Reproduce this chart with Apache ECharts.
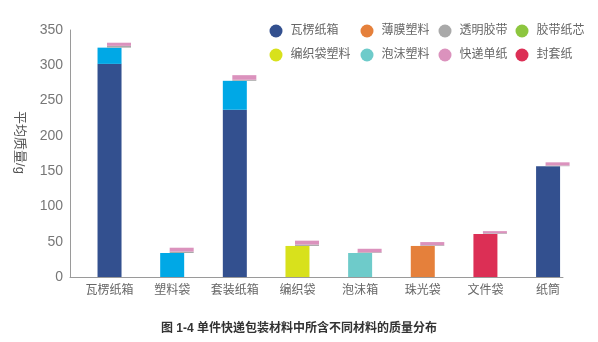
<!DOCTYPE html>
<html>
<head>
<meta charset="utf-8">
<script src="https://cdn.jsdelivr.net/npm/echarts@6/dist/echarts.min.js"></script>
<style>html,body{margin:0;padding:0;background:#fff;}#c{width:598px;height:342px;}</style>
</head>
<body>
<div id="c"></div>
<script>
const categories = ['瓦楞纸箱','塑料袋','套装纸箱','编织袋','泡沫箱','珠光袋','文件袋','纸筒'];
const corrugated = [302, 0, 237, 0, 0, 0, 0, 157];   // 瓦楞纸箱
const plasticBag = [23, 34, 41, 0, 0, 0, 0, 0];      // 塑料 (light blue)
const wovenPlastic = [0, 0, 0, 44, 0, 0, 0, 0];      // 编织袋塑料
const foamPlastic = [0, 0, 0, 0, 34, 0, 0, 0];       // 泡沫塑料
const filmPlastic = [0, 0, 0, 0, 0, 44, 0, 0];       // 薄膜塑料
const envelopePaper = [0, 0, 0, 0, 0, 0, 61, 0];     // 封套纸
const tapeCore = [0, 0, 0, 0, 0, 0, 0, 0];           // 胶带纸芯
const clearTape = [2.5, 2, 1.5, 2, 1, 1, 1, 1];      // 透明胶带
const waybillPaper = [4.5, 5.5, 6.5, 5.5, 5, 4.5, 3, 4.5]; // 快递单纸
const yTicks = [0, 50, 100, 150, 200, 250, 300, 350];

const C = {
  corr: '#33508f', film: '#e5803b', tape: '#a9a9a9', core: '#8dc63f',
  woven: '#d8e11c', foam: '#6ecbca', bill: '#db92bd', env: '#dc2f55', blue: '#00a8e6'
};
const nz = a => a.map(v => v === 0 ? null : v);
const baseTop = categories.map((_, i) =>
  corrugated[i] + plasticBag[i] + wovenPlastic[i] + foamPlastic[i] + filmPlastic[i] + envelopePaper[i]);

const FONT = "'Liberation Sans','Noto Sans CJK SC',sans-serif";
const TOP = 30, BOTTOM = 65, BW = 24;

const chart = echarts.init(document.getElementById('c'), null, {renderer: 'canvas'});
const legendCommon = {
  orient: 'vertical', top: 19.5, itemWidth: 13, itemHeight: 13, itemGap: 11, icon: 'circle',
  textStyle: {fontSize: 12, color: '#666', fontFamily: FONT, padding: [0, 0, 0, 3]}
};
chart.setOption({
  animation: false,
  backgroundColor: '#fff',
  title: {
    text: '图 1-4 单件快递包装材料中所含不同材料的质量分布',
    left: 'center', top: 318,
    textStyle: {fontSize: 12, fontWeight: 'bold', color: '#333', fontFamily: FONT}
  },
  legend: [
    Object.assign({left: 264.5, data: ['瓦楞纸箱', '编织袋塑料']}, legendCommon),
    Object.assign({left: 355.5, data: ['薄膜塑料', '泡沫塑料']}, legendCommon),
    Object.assign({left: 433.5, data: ['透明胶带', '快递单纸']}, legendCommon),
    Object.assign({left: 510.5, data: ['胶带纸芯', '封套纸']}, legendCommon)
  ],
  grid: [
    {left: 70, right: 35, top: TOP, bottom: BOTTOM},
    {left: 78.2, right: 18.6, top: TOP, bottom: BOTTOM},
    {left: 87.7, right: 9.1, top: TOP, bottom: BOTTOM}
  ],
  xAxis: [
    {gridIndex: 0, type: 'category', data: categories,
      axisLine: {show: true, lineStyle: {color: '#9a9a9a', width: 1}},
      axisTick: {show: false}, axisLabel: {show: false}},
    {gridIndex: 1, type: 'category', data: categories,
      axisLine: {show: false}, axisTick: {show: false},
      axisLabel: {fontSize: 12, color: '#666', margin: 8, fontFamily: FONT}},
    {gridIndex: 2, type: 'category', data: categories, show: false}
  ],
  yAxis: [
    {gridIndex: 0, type: 'value', min: 0, max: 350, interval: 50,
      name: '平均质量/g', nameLocation: 'middle', nameRotate: -90, nameGap: 44,
      nameTextStyle: {fontSize: 13, color: '#555', fontFamily: FONT, padding: [0, 22, 0, 0]},
      axisLine: {show: true, lineStyle: {color: '#9a9a9a', width: 1}},
      axisTick: {show: false}, splitLine: {show: false},
      axisLabel: {fontSize: 14, color: '#777', margin: 7, fontFamily: FONT,
        customValues: yTicks}},
    {gridIndex: 1, type: 'value', min: 0, max: 350, show: false, splitLine: {show: false}},
    {gridIndex: 2, type: 'value', min: 0, max: 350, show: false, splitLine: {show: false}}
  ],
  series: [
    {name: '瓦楞纸箱', type: 'bar', xAxisIndex: 1, yAxisIndex: 1, stack: 'main', barWidth: BW,
      data: nz(corrugated), itemStyle: {color: C.corr}},
    {name: '塑料', type: 'bar', xAxisIndex: 1, yAxisIndex: 1, stack: 'main', barWidth: BW,
      data: nz(plasticBag), itemStyle: {color: C.blue}},
    {name: '编织袋塑料', type: 'bar', xAxisIndex: 1, yAxisIndex: 1, stack: 'main', barWidth: BW,
      data: nz(wovenPlastic), itemStyle: {color: C.woven}},
    {name: '泡沫塑料', type: 'bar', xAxisIndex: 1, yAxisIndex: 1, stack: 'main', barWidth: BW,
      data: nz(foamPlastic), itemStyle: {color: C.foam}},
    {name: '薄膜塑料', type: 'bar', xAxisIndex: 1, yAxisIndex: 1, stack: 'main', barWidth: BW,
      data: nz(filmPlastic), itemStyle: {color: C.film}},
    {name: '封套纸', type: 'bar', xAxisIndex: 1, yAxisIndex: 1, stack: 'main', barWidth: BW,
      data: nz(envelopePaper), itemStyle: {color: C.env}},
    {name: 'base', type: 'bar', xAxisIndex: 2, yAxisIndex: 2, stack: 'cap', barWidth: BW,
      data: baseTop, silent: true, itemStyle: {color: 'rgba(0,0,0,0)'}},
    {name: '胶带纸芯', type: 'bar', xAxisIndex: 2, yAxisIndex: 2, stack: 'cap', barWidth: BW,
      data: nz(tapeCore), itemStyle: {color: C.core}},
    {name: '透明胶带', type: 'bar', xAxisIndex: 2, yAxisIndex: 2, stack: 'cap', barWidth: BW,
      data: clearTape, itemStyle: {color: C.tape}},
    {name: '快递单纸', type: 'bar', xAxisIndex: 2, yAxisIndex: 2, stack: 'cap', barWidth: BW,
      data: waybillPaper, itemStyle: {color: C.bill}}
  ]
});
</script>
</body>
</html>
